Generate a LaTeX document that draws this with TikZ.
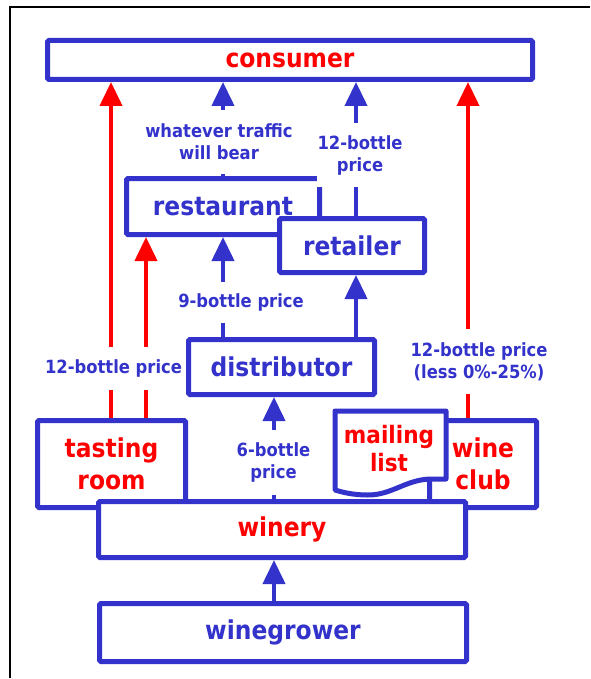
\documentclass[tikz,border=0pt]{standalone}
\usepackage{fontspec}
\setmainfont{DejaVu Sans}[FakeStretch=0.9]
\usetikzlibrary{arrows.meta}
\definecolor{dblue}{RGB}{51,51,204}
\definecolor{dred}{RGB}{255,0,0}
\begin{document}
\begin{tikzpicture}[x=1pt,y=-1pt,
  box/.style={draw=dblue, line width=5pt, fill=white, rounded corners=1.5pt, inner sep=0pt, align=center, font=\bfseries\fontsize{26}{32}\selectfont},
  conn/.style={line width=4pt, -{Triangle[length=24pt,width=22pt]}},
  bluec/.style={conn, color=dblue},
  redc/.style={conn, color=dred},
  lbl/.style={fill=white, text=dblue, inner xsep=1pt, inner ysep=0pt, align=center, font=\bfseries\fontsize{18.2}{22}\selectfont}
]
\useasboundingbox (0,0) rectangle (590,679);
% frame
\draw[line width=2pt, black] (10,678) -- (10,7) -- (590,7);
% columns
\coordinate (c1) at (111,0);
\coordinate (c2) at (146,0);
\coordinate (c3) at (223,0);
\coordinate (c4) at (356,0);
\coordinate (c5) at (274,0);
\coordinate (c6) at (468,0);
% boxes
\node[box, text=dred, minimum width=485pt, minimum height=39pt] (consumer) at (290,60) {consumer};
\node[box, text=dblue, minimum width=193pt, minimum height=56pt] (restaurant) at (223,206.5) {restaurant};
\node[box, text=dblue, minimum width=145pt, minimum height=54pt] (retailer) at (352,245.5) {retailer};
\node[box, text=dblue, minimum width=186pt, minimum height=55pt] (distributor) at (281.5,367) {distributor};
\node[box, text=dred, minimum width=148pt, minimum height=87pt] (tasting) at (111.5,464) {tasting\\room};
\node[box, text=dred, minimum width=107pt, minimum height=87pt] (wineclub) at (483,464) {wine\\club};
\node[box, text=dred, minimum width=367pt, minimum height=56pt] (winery) at (282,529.5) {winery};
\node[box, text=dblue, minimum width=367pt, minimum height=58pt] (winegrower) at (283,632.5) {winegrower};
% mailing list (document shape)
\draw[draw=dblue, fill=white, line width=5pt, line join=round]
  (335,411) -- (446,411) -- (446,479) -- (430,479)
  .. controls (405,480) and (392,495) .. (368,495)
  .. controls (352,495) and (342,492) .. (335,490) -- cycle;
\node[text=dred, align=center, font=\bfseries\fontsize{24}{28}\selectfont] (mailing) at (389,449) {mailing\\list};
% connectors
\draw[redc] (tasting.north -| c1) -- (consumer.south -| c1);
\draw[redc] (tasting.north -| c2) -- (restaurant.south -| c2);
\draw[bluec] (restaurant.north -| c3) -- (consumer.south -| c3);
\draw[bluec] (retailer.north -| c4) -- (consumer.south -| c4);
\draw[redc] (wineclub.north -| c6) -- (consumer.south -| c6);
\draw[bluec] (distributor.north -| c3) -- (restaurant.south -| c3);
\draw[bluec] (distributor.north -| c4) -- (retailer.south -| c4);
\draw[bluec] (winery.north -| c5) -- (distributor.south -| c5);
\draw[bluec] (winegrower.north -| c5) -- (winery.south -| c5);
% labels
\node[lbl, minimum height=64pt] (l1) at (219,142) {whatever traffic\\will bear};
\node[lbl, minimum height=64pt] (l2) at (360,155) {12-bottle\\price};
\node[lbl, minimum height=41pt] (l3) at (241,302.5) {9-bottle price};
\node[lbl, minimum height=43pt] (l4) at (113.5,368.5) {12-bottle price};
\node[lbl, minimum height=65pt] (l5) at (479,361.5) {12-bottle price\\(less 0\%-25\%)};
\node[lbl, minimum height=65pt] (l6) at (273.5,462.5) {6-bottle\\price};
\end{tikzpicture}
\end{document}
